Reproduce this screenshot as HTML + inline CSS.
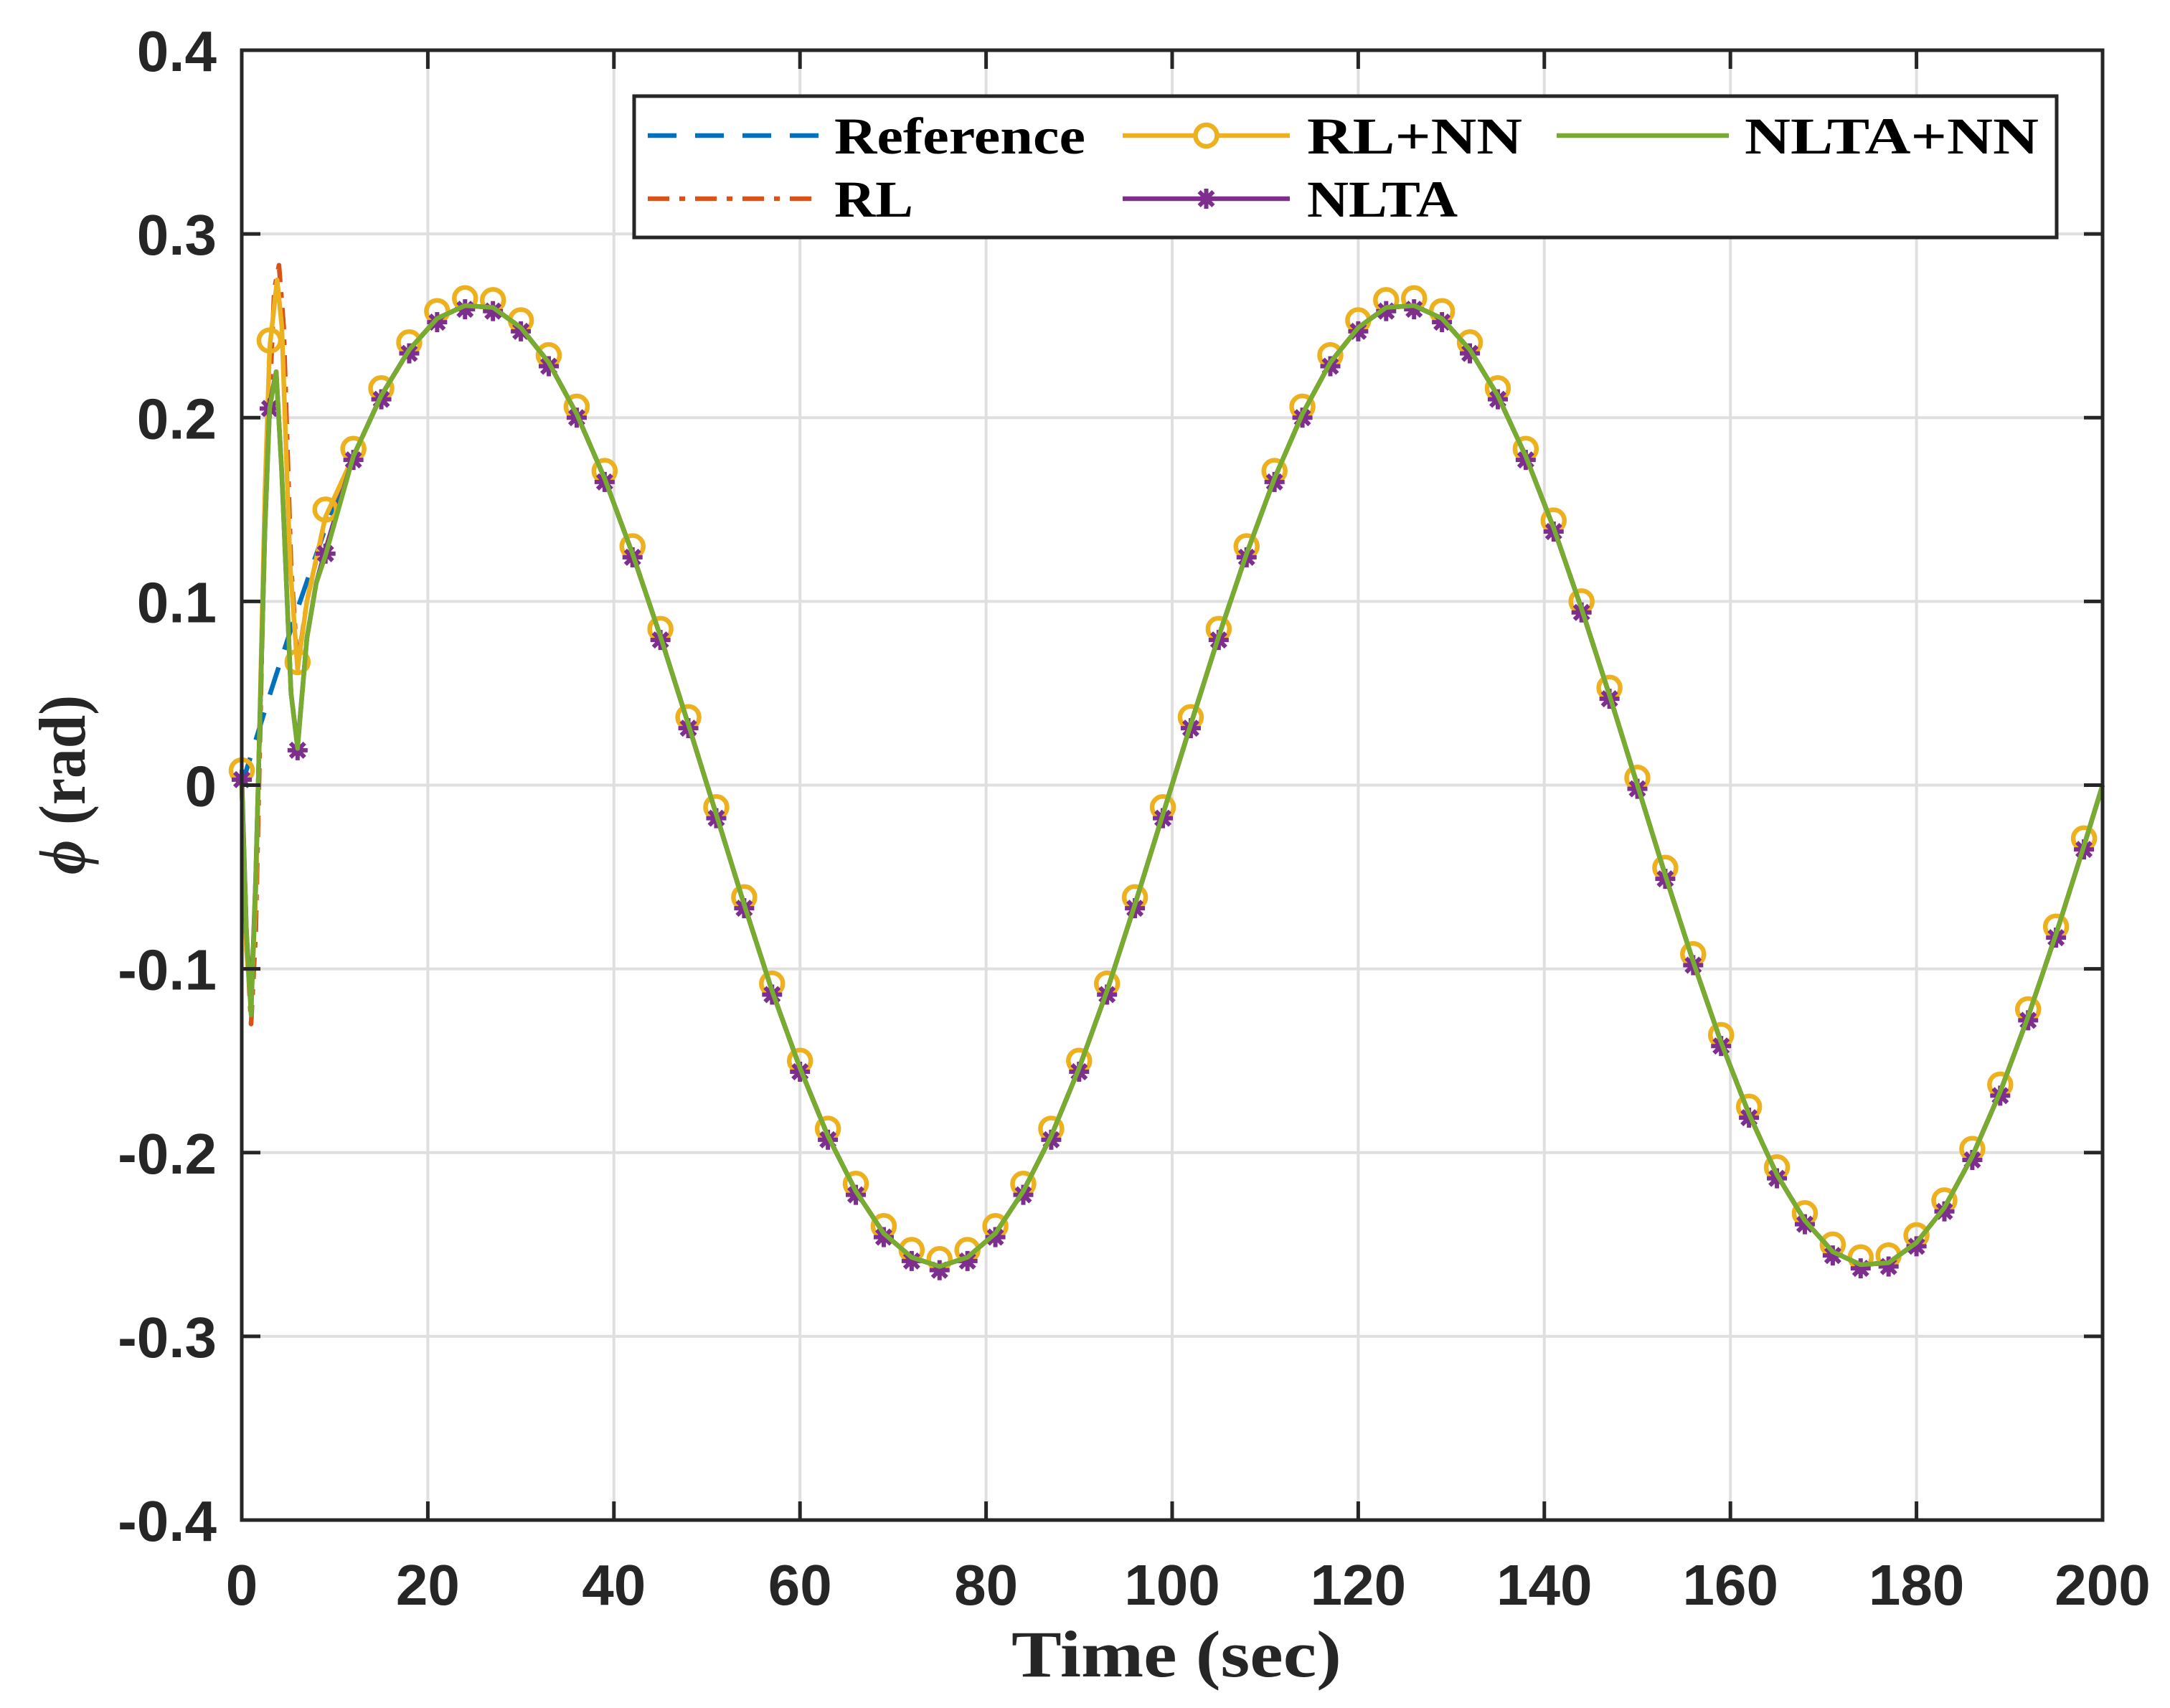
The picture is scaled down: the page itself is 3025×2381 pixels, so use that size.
<!DOCTYPE html>
<html><head><meta charset="utf-8"><style>
html,body{margin:0;padding:0;background:#fff;}
svg{display:block;}
</style></head><body>
<svg id="chart" xmlns="http://www.w3.org/2000/svg" width="3025" height="2381" viewBox="0 0 3025 2381">
<rect x="0" y="0" width="3025" height="2381" fill="#fff"/>
<g id="grid"></g>
<g id="series"></g>
<g id="axes"></g>
<g id="legend"></g>
</svg>
<script>
// ---- data ----
const xTicks = [0,20,40,60,80,100,120,140,160,180,200];
const yTicks = [-0.4,-0.3,-0.2,-0.1,0,0.1,0.2,0.3,0.4];
const yTickLabels = ["-0.4","-0.3","-0.2","-0.1","0","0.1","0.2","0.3","0.4"];
const steadyT = [0,3,6,9,12,15,18,21,24,27,30,33,36,39,42,45,48,51,54,57,60,63,66,69,72,75,78,81,84,87,90,93,96,99,102,105,108,111,114,117,120,123,126,129,132,135,138,141,144,147,150,153,156,159,162,165,168,171,174,177,180,183,186,189,192,195,198,200];
const refVals = [0,0.049,0.096,0.140,0.179,0.212,0.237,0.254,0.261,0.260,0.249,0.230,0.202,0.167,0.126,0.081,0.033,-0.016,-0.065,-0.112,-0.154,-0.191,-0.221,-0.244,-0.257,-0.262,-0.257,-0.244,-0.221,-0.191,-0.154,-0.112,-0.065,-0.016,0.033,0.081,0.126,0.167,0.202,0.230,0.249,0.260,0.261,0.254,0.237,0.212,0.179,0.140,0.096,0.049,0,-0.049,-0.096,-0.140,-0.179,-0.212,-0.237,-0.254,-0.261,-0.260,-0.249,-0.230,-0.202,-0.167,-0.126,-0.081,-0.033,0];
const rlTransT = [0,0.5,1,1.5,2.5,3.5,4,4.5,5.3,6,7,9];
const rlTransV = [0,-0.08,-0.13,-0.08,0.15,0.27,0.283,0.25,0.12,0.065,0.10,0.145];
const rlnnTransT = [0,0.5,1,1.5,2.5,3,3.8,4.3,5.2,6,7,9];
const rlnnTransV = [0.004,-0.09,-0.12,-0.06,0.16,0.238,0.275,0.25,0.12,0.063,0.10,0.146];
const nltaTransT = [0,0.5,1,1.5,2.5,3,3.7,4.3,5.3,6,7,8,9];
const nltaTransV = [0.005,-0.08,-0.12,-0.05,0.14,0.207,0.225,0.17,0.05,0.021,0.08,0.11,0.128];
const nltannTransV = [0.0,-0.08,-0.125,-0.05,0.14,0.205,0.225,0.17,0.05,0.02,0.08,0.11,0.125];

// ---- geometry ----
const X0=337,X1=2931,Y0=2119,Y1=70;
const xs=t=>X0+(t-0)/(200-0)*(X1-X0);
const ys=v=>Y0-(v+0.4)/0.8*(Y0-Y1);
const NS="http://www.w3.org/2000/svg";
function mk(tag,attrs,parent){const e=document.createElementNS(NS,tag);for(const k in attrs)e.setAttribute(k,attrs[k]);parent.appendChild(e);return e;}
const grid=document.getElementById('grid'),axes=document.getElementById('axes'),ser=document.getElementById('series'),leg=document.getElementById('legend');
const LW=6.5;

xTicks.forEach(t=>{
  const l=mk('line',{x1:xs(t),x2:xs(t),y1:Y1,y2:Y0,stroke:'#dfdfdf','stroke-width':4},grid);
  
  
});
yTicks.forEach(v=>{
  const l=mk('line',{x1:X0,x2:X1,y1:ys(v),y2:ys(v),stroke:'#dfdfdf','stroke-width':4},grid);
  
  
});

function buildSeries(tT,tV){
  const pts=[];
  const last=tT[tT.length-1];
  for(let i=0;i<tT.length;i++)pts.push([tT[i],tV[i]]);
  for(let i=0;i<steadyT.length;i++){if(steadyT[i]>last)pts.push([steadyT[i],refVals[i]]);}
  return pts;
}
function pathD(pts){return pts.map((p,i)=>(i?'L':'M')+xs(p[0]).toFixed(1)+','+ys(p[1]).toFixed(1)).join(' ');}

const refPts=steadyT.map((t,i)=>[t,refVals[i]]);
const rlPts=buildSeries(rlTransT,rlTransV);
const rlnnPts=buildSeries(rlnnTransT,rlnnTransV);
const nltaPts=buildSeries(nltaTransT,nltaTransV);
const nltannPts=buildSeries(nltaTransT,nltannTransV);

let p;
p=mk('path',{d:pathD(refPts),fill:'none',stroke:'#0072bd','stroke-width':LW,'stroke-dasharray':'40,26','stroke-linejoin':'round'},ser);


p=mk('path',{d:pathD(rlPts),fill:'none',stroke:'#d95319','stroke-width':LW,'stroke-dasharray':'30,14,8,14','stroke-linejoin':'round'},ser);


p=mk('path',{d:pathD(rlnnPts),fill:'none',stroke:'#edb120','stroke-width':LW,'stroke-linejoin':'round'},ser);


p=mk('path',{d:pathD(nltaPts),fill:'none',stroke:'#7e2f8e','stroke-width':LW,'stroke-linejoin':'round'},ser);



function valAt(pts,t){for(const q of pts){if(Math.abs(q[0]-t)<1e-6)return q[1];}
  for(let i=1;i<pts.length;i++){if(pts[i][0]>=t){const a=pts[i-1],b=pts[i];return a[1]+(b[1]-a[1])*(t-a[0])/(b[0]-a[0]);}}return 0;}
function star(cx,cy,r,parent,color){
  const g=mk('g',{},parent);
  for(let k=0;k<4;k++){const a=k*Math.PI/4;
    mk('line',{x1:cx-r*Math.cos(a),y1:cy-r*Math.sin(a),x2:cx+r*Math.cos(a),y2:cy+r*Math.sin(a),stroke:color,'stroke-width':6},g);}
  mk('circle',{cx:cx,cy:cy,r:r*0.6,fill:color},g);
  return g;
}
steadyT.forEach(t=>{
  if(t>198)return;
  const c=mk('circle',{cx:xs(t),cy:ys(valAt(rlnnPts,t)+0.004),r:15,fill:'none',stroke:'#edb120','stroke-width':6.5},ser);
  
  
  const s=star(xs(t),ys(valAt(nltaPts,t)-0.002),14,ser,'#7e2f8e');
  
  
});
p=mk('path',{d:pathD(nltannPts),fill:'none',stroke:'#77ac30','stroke-width':LW,'stroke-linejoin':'round'},ser);



// axes box
const box=mk('rect',{x:X0,y:Y1,width:X1-X0,height:Y0-Y1,fill:'none',stroke:'#262626','stroke-width':5},axes);


const TL=26;
xTicks.forEach(t=>{
  mk('line',{x1:xs(t),x2:xs(t),y1:Y0,y2:Y0-TL,stroke:'#262626','stroke-width':5},axes);
  mk('line',{x1:xs(t),x2:xs(t),y1:Y1,y2:Y1+TL,stroke:'#262626','stroke-width':5},axes);
  const tx=mk('text',{x:xs(t),y:2237,'text-anchor':'middle','font-family':'Liberation Sans, Arial, sans-serif','font-weight':'bold','font-size':80,fill:'#262626'},axes);
  tx.textContent=String(t);
  
  
});
yTicks.forEach((v,i)=>{
  mk('line',{x1:X0,x2:X0+TL,y1:ys(v),y2:ys(v),stroke:'#262626','stroke-width':5},axes);
  mk('line',{x1:X1,x2:X1-TL,y1:ys(v),y2:ys(v),stroke:'#262626','stroke-width':5},axes);
  const tx=mk('text',{x:302,y:ys(v)+29,'text-anchor':'end','font-family':'Liberation Sans, Arial, sans-serif','font-weight':'bold','font-size':80,fill:'#262626'},axes);
  tx.textContent=yTickLabels[i];
  
  
});
let xl=mk('text',{x:1640,y:2337,'text-anchor':'middle','font-family':'Liberation Serif, serif','font-weight':'bold','font-size':92,fill:'#262626',textLength:460,lengthAdjust:'spacingAndGlyphs'},axes);
xl.textContent='Time (sec)';


let yl=mk('text',{x:0,y:0,'text-anchor':'middle','font-family':'Liberation Serif, serif','font-weight':'bold','font-size':92,fill:'#262626',textLength:250,lengthAdjust:'spacingAndGlyphs',transform:'translate(118,1094) rotate(-90)'},axes);
yl.innerHTML='<tspan font-style="italic">ϕ</tspan> (rad)';



// legend
const lb=mk('rect',{x:884,y:134,width:1983,height:197,fill:'#fff',stroke:'#262626','stroke-width':5},leg);


const entries=[
 {name:'Reference',x1:903,x2:1141,tx:1163,y:189,color:'#0072bd',dash:'40,26',mk:null,w:350},
 {name:'RL',x1:903,x2:1141,tx:1163,y:277,color:'#d95319',dash:'30,14,8,14',mk:null,w:110},
 {name:'RL+NN',x1:1565,x2:1798,tx:1822,y:189,color:'#edb120',dash:null,mk:'circle',w:300},
 {name:'NLTA',x1:1565,x2:1798,tx:1822,y:277,color:'#7e2f8e',dash:null,mk:'star',w:210},
 {name:'NLTA+NN',x1:2170,x2:2410,tx:2432,y:189,color:'#77ac30',dash:null,mk:null,w:410}
];
entries.forEach(e=>{
  const g=mk('g',{},leg);
  
  
  const a={x1:e.x1,x2:e.x2,y1:e.y,y2:e.y,stroke:e.color,'stroke-width':LW};
  if(e.dash)a['stroke-dasharray']=e.dash;
  mk('line',a,g);
  const cx=(e.x1+e.x2)/2;
  if(e.mk==='circle')mk('circle',{cx:cx,cy:e.y,r:15,fill:'#fff',stroke:e.color,'stroke-width':6.5},g);
  if(e.mk==='star')star(cx,e.y,14,g,e.color);
  const t=mk('text',{x:e.tx,y:e.y+25,'font-family':'Liberation Serif, serif','font-weight':'bold','font-size':72,fill:'#000',textLength:e.w,lengthAdjust:'spacingAndGlyphs'},g);
  t.textContent=e.name;
});
</script>
</body></html>
